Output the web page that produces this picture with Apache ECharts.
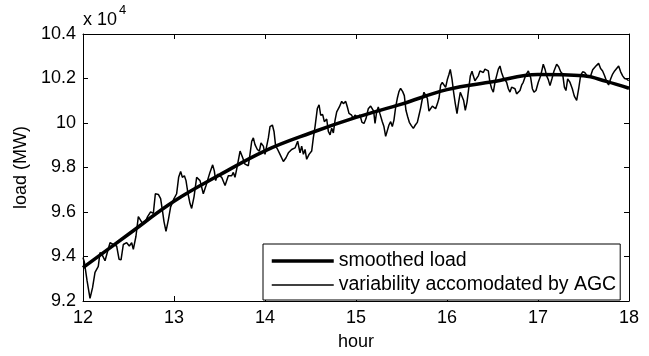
<!DOCTYPE html>
<html>
<head>
<meta charset="utf-8">
<script src="https://cdn.jsdelivr.net/npm/echarts@6/dist/echarts.min.js"></script>
<style>
  html, body { margin: 0; padding: 0; background: #fff; }
  #chart { width: 649px; height: 356px; }
</style>
</head>
<body>
<div id="chart"></div>
<script>
// Axis ticks (load values are in units of 10^4 MW)
const xTicks = [12, 13, 14, 15, 16, 17, 18];
const yTicks = [9.2, 9.4, 9.6, 9.8, 10, 10.2, 10.4];

// Smoothed load
const smoothHours = [12, 12.5, 13, 13.5, 14, 14.5, 15, 15.5, 16, 16.5, 17, 17.5, 17.75, 18];
const smoothLoad  = [9.35, 9.50, 9.648, 9.766, 9.875, 9.955, 10.025, 10.085, 10.15, 10.185, 10.218, 10.212, 10.187, 10.156];

// Variability accommodated by AGC (noisy load)
const agcHours = [
  12.000, 12.015, 12.045, 12.077, 12.105, 12.132, 12.168, 12.187, 12.216, 12.242,
  12.267, 12.297, 12.333, 12.370, 12.396, 12.418, 12.443, 12.480, 12.509, 12.535,
  12.553, 12.582, 12.608, 12.626, 12.652, 12.681, 12.710, 12.743, 12.773, 12.795,
  12.828, 12.853, 12.875, 12.890, 12.912, 12.938, 12.963, 13.000, 13.029, 13.051,
  13.073, 13.092, 13.114, 13.132, 13.154, 13.176, 13.194, 13.220, 13.249, 13.286,
  13.322, 13.352, 13.395, 13.425, 13.443, 13.458, 13.480, 13.524, 13.561, 13.597,
  13.634, 13.652, 13.670, 13.689, 13.726, 13.755, 13.780, 13.799, 13.817, 13.835,
  13.854, 13.872, 13.890, 13.916, 13.938, 13.956, 13.982, 14.000, 14.037, 14.055,
  14.081, 14.099, 14.117, 14.139, 14.165, 14.202, 14.231, 14.257, 14.293, 14.330,
  14.359, 14.385, 14.403, 14.422, 14.440, 14.458, 14.484, 14.513, 14.531, 14.550,
  14.575, 14.594, 14.612, 14.634, 14.652, 14.678, 14.696, 14.715, 14.733, 14.751,
  14.770, 14.788, 14.817, 14.843, 14.861, 14.887, 14.905, 14.923, 14.952, 14.970,
  14.989, 15.014, 15.044, 15.066, 15.088, 15.110, 15.135, 15.161, 15.179, 15.194,
  15.209, 15.227, 15.245, 15.263, 15.289, 15.307, 15.326, 15.344, 15.362, 15.381,
  15.399, 15.417, 15.436, 15.454, 15.472, 15.490, 15.513, 15.531, 15.549, 15.568,
  15.586, 15.608, 15.630, 15.652, 15.674, 15.692, 15.710, 15.729, 15.747, 15.765,
  15.784, 15.802, 15.820, 15.839, 15.857, 15.875, 15.894, 15.912, 15.930, 15.948,
  15.967, 15.985, 16.003, 16.022, 16.036, 16.055, 16.073, 16.091, 16.110, 16.128,
  16.146, 16.165, 16.183, 16.201, 16.220, 16.238, 16.256, 16.275, 16.289, 16.307,
  16.326, 16.344, 16.362, 16.381, 16.399, 16.417, 16.436, 16.454, 16.472, 16.491,
  16.509, 16.527, 16.545, 16.564, 16.582, 16.600, 16.619, 16.637, 16.655, 16.674,
  16.692, 16.710, 16.729, 16.747, 16.765, 16.784, 16.802, 16.820, 16.838, 16.865,
  16.894, 16.919, 16.938, 16.956, 16.978, 17.003, 17.029, 17.058, 17.077, 17.095,
  17.113, 17.132, 17.154, 17.176, 17.205, 17.227, 17.249, 17.271, 17.290, 17.307,
  17.326, 17.351, 17.377, 17.399, 17.425, 17.447, 17.469, 17.491, 17.513, 17.535,
  17.557, 17.579, 17.601, 17.622, 17.644, 17.666, 17.688, 17.710, 17.732, 17.754,
  17.776, 17.798, 17.820, 17.842, 17.864, 17.886, 17.908, 17.930, 17.952, 17.974,
  17.996
];
const agcLoad = [
  9.395, 9.375, 9.290, 9.212, 9.260, 9.329, 9.356, 9.418, 9.403, 9.381,
  9.418, 9.462, 9.454, 9.447, 9.388, 9.385, 9.454, 9.462, 9.447, 9.462,
  9.432, 9.491, 9.579, 9.587, 9.550, 9.553, 9.579, 9.601, 9.594, 9.682,
  9.679, 9.660, 9.601, 9.557, 9.513, 9.565, 9.623, 9.660, 9.682, 9.756,
  9.782, 9.756, 9.763, 9.741, 9.682, 9.638, 9.616, 9.668, 9.756, 9.741,
  9.682, 9.719, 9.778, 9.812, 9.785, 9.741, 9.770, 9.756, 9.719, 9.763,
  9.763, 9.778, 9.756, 9.793, 9.874, 9.844, 9.815, 9.822, 9.808, 9.859,
  9.918, 9.933, 9.903, 9.881, 9.874, 9.910, 9.896, 9.859, 9.933, 9.984,
  9.991, 9.962, 9.896, 9.881, 9.859, 9.827, 9.844, 9.866, 9.881, 9.888,
  9.918, 9.866, 9.896, 9.859, 9.881, 9.837, 9.859, 9.874, 9.933, 9.984,
  10.065, 10.082, 10.035, 10.038, 10.006, 10.018, 9.962, 9.947, 9.977, 9.955,
  10.013, 10.050, 10.072, 10.097, 10.087, 10.097, 10.072, 10.043, 10.035, 10.020,
  10.035, 10.028, 10.035, 10.003, 9.998, 10.020, 10.064, 10.076, 10.079, 10.053,
  9.998, 10.050, 10.072, 10.042, 10.006, 9.984, 9.940, 9.947, 9.991, 10.006,
  9.984, 10.013, 10.072, 10.111, 10.141, 10.156, 10.141, 10.123, 10.057, 10.028,
  10.003, 9.988, 9.976, 9.991, 10.003, 10.035, 10.067, 10.109, 10.138, 10.131,
  10.111, 10.053, 10.057, 10.076, 10.076, 10.064, 10.086, 10.111, 10.170, 10.182,
  10.182, 10.160, 10.194, 10.219, 10.241, 10.197, 10.138, 10.087, 10.042, 10.094,
  10.138, 10.135, 10.101, 10.057, 10.094, 10.153, 10.211, 10.233, 10.212, 10.190,
  10.186, 10.212, 10.234, 10.239, 10.227, 10.242, 10.245, 10.234, 10.183, 10.154,
  10.139, 10.183, 10.212, 10.242, 10.256, 10.227, 10.205, 10.198, 10.183, 10.154,
  10.139, 10.161, 10.168, 10.154, 10.131, 10.124, 10.146, 10.170, 10.183, 10.215,
  10.234, 10.205, 10.154, 10.139, 10.146, 10.183, 10.212, 10.264, 10.242, 10.212,
  10.195, 10.168, 10.200, 10.234, 10.264, 10.253, 10.230, 10.220, 10.161, 10.146,
  10.198, 10.183, 10.154, 10.121, 10.102, 10.154, 10.215, 10.230, 10.227, 10.215,
  10.205, 10.212, 10.239, 10.249, 10.259, 10.268, 10.245, 10.234, 10.212, 10.186,
  10.171, 10.198, 10.220, 10.234, 10.245, 10.256, 10.230, 10.212, 10.200, 10.198,
  10.190
];

const FONT = '"Liberation Sans", Arial, Helvetica, sans-serif';
const smoothData = smoothHours.map((h, i) => [h, smoothLoad[i]]);
const agcData = agcHours.map((h, i) => [h, agcLoad[i]]);

const chart = echarts.init(document.getElementById('chart'), null, { renderer: 'canvas' });
const axisCommon = {
  axisLine: { show: true, lineStyle: { color: '#000', width: 1 } },
  axisTick: { show: true, inside: true, length: 5, lineStyle: { color: '#000', width: 1 } },
  splitLine: { show: false }
};
const fmtY = v => String(parseFloat(v.toFixed(1)));
chart.setOption({
  animation: false,
  backgroundColor: '#fff',
  grid: { left: 83, top: 34, right: 20, bottom: 50, containLabel: false },
  xAxis: [
    Object.assign({
      type: 'value', min: xTicks[0], max: xTicks[xTicks.length - 1], interval: 1,
      position: 'bottom',
      name: 'hour', nameLocation: 'middle', nameGap: 32,
      nameTextStyle: { fontSize: 18, color: '#000', fontFamily: FONT },
      axisLabel: { fontSize: 18, color: '#000', fontFamily: FONT, margin: 8 }
    }, axisCommon),
    Object.assign({
      type: 'value', min: xTicks[0], max: xTicks[xTicks.length - 1], interval: 1,
      position: 'top', axisLabel: { show: false }
    }, axisCommon)
  ],
  yAxis: [
    Object.assign({
      type: 'value', min: yTicks[0], max: yTicks[yTicks.length - 1], interval: 0.2,
      position: 'left',
      name: 'load (MW)', nameLocation: 'middle', nameGap: 52,
      nameTextStyle: { fontSize: 18, color: '#000', fontFamily: FONT },
      axisLabel: { fontSize: 18, color: '#000', fontFamily: FONT, margin: 7, formatter: fmtY }
    }, axisCommon),
    Object.assign({
      type: 'value', min: yTicks[0], max: yTicks[yTicks.length - 1], interval: 0.2,
      position: 'right', axisLabel: { show: false }
    }, axisCommon)
  ],
  legend: {
    orient: 'vertical', left: 263, top: 244,
    padding: [7, 4, 5, 7], itemGap: 4, itemWidth: 62, itemHeight: 16,
    borderColor: '#000', borderWidth: 1, backgroundColor: '#fff', borderRadius: 0,
    itemStyle: { opacity: 0 },
    textStyle: { fontSize: 19.5, color: '#000', fontFamily: FONT },
    data: [
      { name: 'smoothed load', lineStyle: { width: 3.5, color: '#000' } },
      { name: 'variability accomodated by AGC', lineStyle: { width: 1.5, color: '#000' } }
    ]
  },
  graphic: [
    { type: 'text', left: 83, top: 11, style: { text: 'x 10', fontSize: 18, fill: '#000', fontFamily: FONT } },
    { type: 'text', left: 119, top: 4, style: { text: '4', fontSize: 13, fill: '#000', fontFamily: FONT } }
  ],
  series: [
    {
      name: 'variability accomodated by AGC', type: 'line', data: agcData,
      symbol: 'none', smooth: false,
      lineStyle: { color: '#000', width: 1.5 }, itemStyle: { color: '#000' }
    },
    {
      name: 'smoothed load', type: 'line', data: smoothData,
      symbol: 'none', smooth: 0.4,
      lineStyle: { color: '#000', width: 3.5 }, itemStyle: { color: '#000' }
    }
  ]
});
</script>
</body>
</html>
